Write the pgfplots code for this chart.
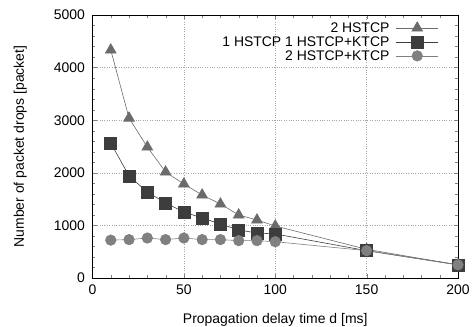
\documentclass[border=0pt]{standalone}
\usepackage{fontspec}
\setmainfont{Liberation Sans}
\usepackage{pgfplots}
\pgfplotsset{compat=1.18}
\definecolor{tri}{gray}{0.42}
\definecolor{sq}{gray}{0.24}
\definecolor{ci}{gray}{0.5}
\begin{document}
\begin{tikzpicture}
\begin{axis}[
  scale only axis,
  width=365.5bp, height=263bp,
  xmin=0, xmax=200, ymin=0, ymax=5000,
  xtick={0,50,100,150,200},
  ytick={0,1000,2000,3000,4000,5000},
  minor x tick num=4,
  minor y tick num=4,
  tick align=inside,
  tick pos=both,
  grid=major,
  major grid style={dotted, gray!70, line width=0.6pt},
  axis line style={line width=0.8pt},
  /pgf/number format/assume math mode=true,
  /pgf/number format/1000 sep={},
  tick label style={font=\fontsize{14}{16}\selectfont},
  yticklabel style={xshift=-4bp},
  xticklabel style={yshift=-3bp},
  xlabel={Propagation delay time d [ms]},
  ylabel={Number of packet drops [packet]},
  every axis y label/.style={at={(axis description cs:-0.225,0.5)}, rotate=90, anchor=north, font=\fontsize{14}{16}\selectfont},
  every axis x label/.style={at={(axis description cs:0.5,-0.12)}, anchor=north, font=\fontsize{14}{16}\selectfont},
  legend style={draw=none, fill=none, at={(0.948,0.975)}, anchor=north east,
    font=\fontsize{14}{16}\selectfont, row sep=1.5pt, inner sep=0pt,
    nodes={inner sep=0.6pt}},
  legend cell align=right,
  legend plot pos=right,
  legend image code/.code={\path (0cm,0cm); \draw[#1] (0.2cm,0cm) -- (1.7cm,0cm); \draw[#1, only marks] plot coordinates {(0.95cm,0cm)};},
]
\coordinate (tl) at (axis description cs:0,1);
\addplot[color=tri, line width=0.6pt, mark=triangle*, mark size=6.3pt, mark options={fill=tri}] coordinates {
(10,4335) (20,3040) (30,2490) (40,2015) (50,1787) (60,1578) (70,1407) (80,1198) (90,1103) (100,989) (150,545) (200,250)};
\addlegendentry{2 HSTCP}
\addplot[color=sq, line width=0.6pt, mark=square*, mark size=6pt, mark options={fill=sq}] coordinates {
(10,2567) (20,1939) (30,1635) (40,1426) (50,1255) (60,1141) (70,1027) (80,913) (90,856) (100,837) (150,520) (200,250)};
\addlegendentry{1 HSTCP 1 HSTCP+KTCP}
\addplot[color=ci, line width=0.6pt, mark=*, mark size=5.3pt, mark options={fill=ci}] coordinates {
(10,720) (20,730) (30,760) (40,730) (50,760) (60,730) (70,730) (80,710) (90,710) (100,690) (150,520) (200,250)};
\addlegendentry{2 HSTCP+KTCP}
\end{axis}
\pgfresetboundingbox
\path (tl) ++(-92.5bp,15bp) rectangle ++(475bp,-327bp);
\end{tikzpicture}
\end{document}
